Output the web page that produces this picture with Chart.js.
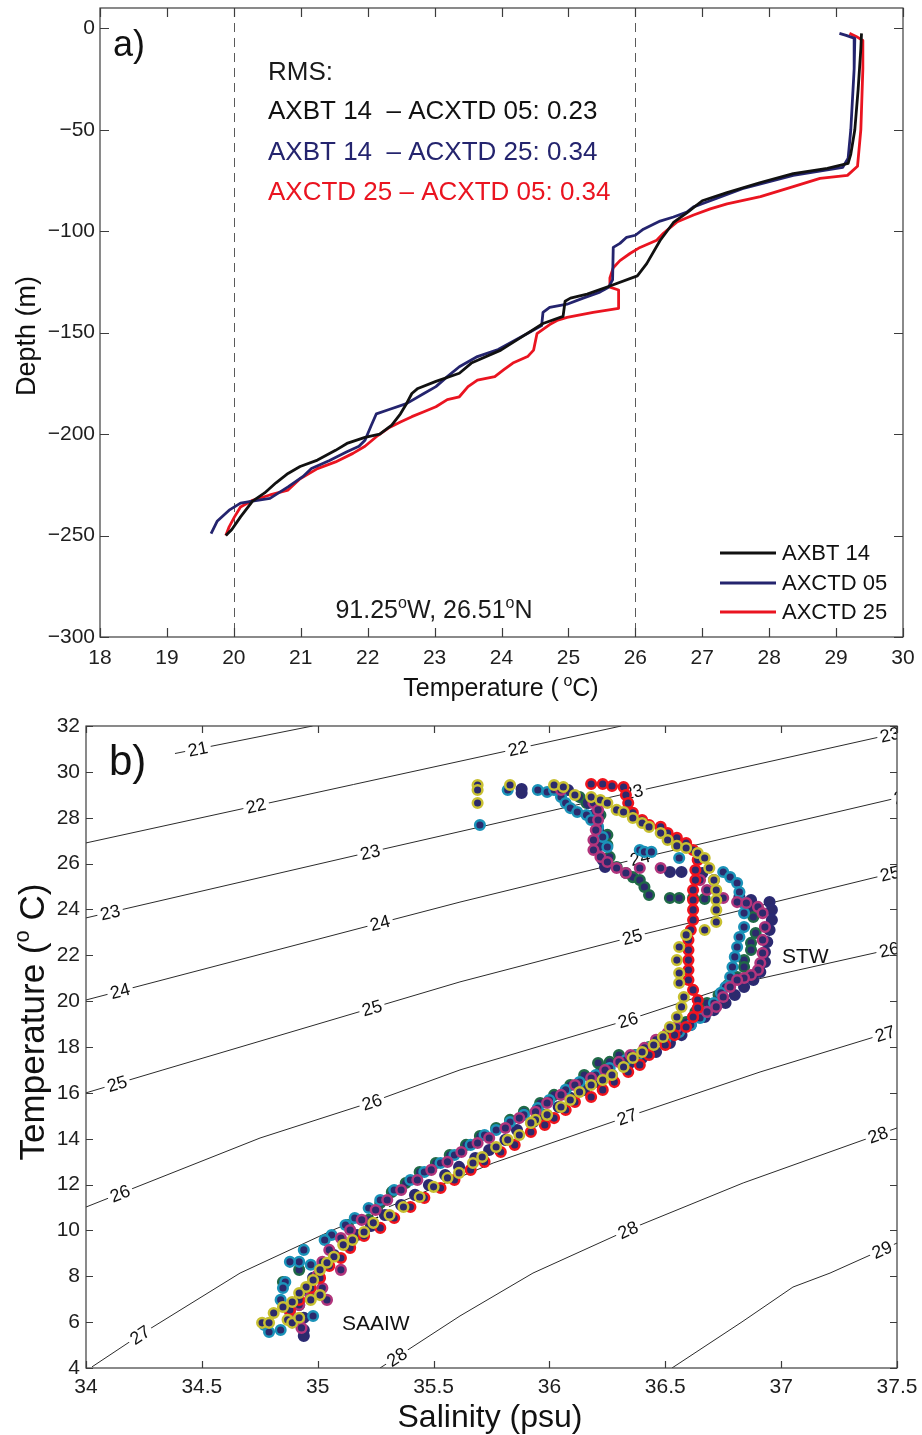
<!DOCTYPE html>
<html>
<head>
<meta charset="utf-8">
<script src="https://cdn.jsdelivr.net/npm/chart.js@4.4.1/dist/chart.umd.min.js"></script>
<style>
  html, body { margin: 0; padding: 0; background: #fff; }
  #wrap { position: relative; width: 922px; height: 1435px; }
  canvas { position: absolute; left: 0; }
  #chartA { top: 0; }
  #chartB { top: 705px; }
</style>
</head>
<body>
<div id="wrap">
  <canvas id="chartA" width="922" height="705"></canvas>
  <canvas id="chartB" width="922" height="730"></canvas>
</div>
<script>
// ---------- panel a: temperature profiles ----------
var tempTicks = [18, 19, 20, 21, 22, 23, 24, 25, 26, 27, 28, 29, 30];
var depthTicks = [-300, -250, -200, -150, -100, -50, 0];
var dashedTemps = [20, 26];

var axbtTemp = [29.38, 29.37, 29.33, 29.28, 29.22, 29.18, 28.87, 28.36, 27.87, 27.37, 27.0, 26.77, 26.57, 26.37, 26.17, 26.03, 25.62, 25.28, 25.03, 24.95, 24.92, 24.62, 24.38, 23.99, 23.55, 23.37, 23.02, 22.75, 22.66, 22.58, 22.49, 22.36, 22.18, 21.96, 21.69, 21.52, 21.25, 20.99, 20.81, 20.63, 20.46, 20.28, 20.1, 19.97, 19.88];
var axbtDepth = [-2.5, -10, -30, -50, -62, -66.6, -69, -71.6, -76, -81, -85, -91, -95.7, -104.6, -116, -122, -127, -131, -133, -134.5, -142, -145.5, -150.5, -158.6, -165, -170, -174, -177.5, -180, -185, -190, -195.6, -200, -201.6, -204.6, -208, -212.8, -216, -219.4, -224, -229, -233, -240.8, -247, -250];

var ctd05Temp = [29.05, 29.15, 29.28, 29.27, 29.22, 29.18, 29.1, 28.36, 27.6, 27.12, 26.87, 26.77, 26.57, 26.37, 26.12, 26.0, 25.87, 25.77, 25.67, 25.66, 25.6, 25.47, 25.22, 24.98, 24.72, 24.62, 24.6, 24.38, 23.95, 23.64, 23.37, 23.19, 23.02, 22.84, 22.58, 22.31, 22.13, 22.05, 21.96, 21.87, 21.69, 21.43, 21.16, 21.03, 20.81, 20.54, 20.28, 20.1, 19.93, 19.75, 19.66];
var ctd05Depth = [-2.5, -3.5, -5, -20, -50, -64, -68.5, -72.5, -79, -85, -88, -90.6, -93, -95, -99, -102, -103, -106, -108, -124, -127.6, -130, -133, -136, -137.6, -140, -146.5, -150.5, -158.3, -161.8, -166.8, -171.7, -176.6, -180, -185, -188, -190, -196, -203, -206, -208.7, -213, -217, -221, -226, -231.7, -233, -234, -237.5, -243, -249];

var ctd25Temp = [29.2, 29.3, 29.4, 29.4, 29.37, 29.32, 29.17, 28.76, 28.36, 27.87, 27.37, 27.12, 26.87, 26.62, 26.42, 26.32, 26.07, 25.92, 25.77, 25.67, 25.62, 25.62, 25.75, 25.75, 25.37, 24.98, 24.83, 24.72, 24.53, 24.48, 24.39, 24.17, 24.03, 23.9, 23.64, 23.5, 23.37, 23.19, 23.02, 22.84, 22.66, 22.49, 22.31, 22.13, 21.96, 21.78, 21.52, 21.25, 20.99, 20.81, 20.54, 20.28, 20.1, 20.01, 19.93, 19.88];
var ctd25Depth = [-2.5, -4, -6, -20, -50, -68, -72.5, -74, -78, -83, -86.5, -89, -92, -95.5, -101, -104.5, -108, -111, -114.5, -118, -123, -127.6, -129, -138, -140, -142.5, -144, -146, -150.5, -158.6, -161.8, -165, -168.4, -171.7, -173.4, -176.6, -181.6, -183, -186.5, -189, -191.4, -194, -197, -201.3, -206, -209.5, -213.7, -217, -222, -227.6, -230, -232.6, -235.9, -240.8, -245.7, -250];

var profileNames = ["AXBT 14", "AXCTD 05", "AXCTD 25"];
var rmsLines = ["AXBT 14  \u2013 ACXTD 05: 0.23", "AXBT 14  \u2013 ACXTD 25: 0.34", "AXCTD 25 \u2013 ACXTD 05: 0.34"];

// ---------- panel b: T-S diagram ----------
var salTicks = [34, 34.5, 35, 35.5, 36, 36.5, 37, 37.5];
var tsTempTicks = [4, 6, 8, 10, 12, 14, 16, 18, 20, 22, 24, 26, 28, 30, 32];

// sigma-t contours [S, T]
var sig21 = [[34.384, 30.80], [34.958, 31.96], [34.978, 32.0]];
var sig22 = [[34.00, 26.90], [36.31, 32.0]];
var sig23 = [[34.00, 23.63], [35.226, 26.50], [36.361, 29.12], [37.50, 31.69]];
var sig24 = [[34.00, 20.05], [35.269, 23.41], [35.614, 24.32], [36.391, 26.24], [37.50, 28.86]];
var sig25 = [[34.00, 16.00], [34.332, 17.00], [35.234, 19.70], [35.614, 20.84], [36.357, 22.80], [37.50, 25.63]];
var sig26 = [[34.00, 11.02], [34.751, 14.03], [35.234, 15.60], [35.614, 17.00], [36.339, 19.18], [36.823, 20.79], [37.50, 22.32]];
var sig27 = [[34.026, 4.05], [34.233, 5.44], [34.665, 8.14], [35.066, 10.02], [35.256, 10.81], [35.757, 12.94], [36.335, 14.95], [36.909, 16.91], [37.50, 18.74]];
var sig28 = [[35.269, 4.00], [35.614, 6.27], [35.929, 8.14], [36.339, 10.02], [36.836, 12.07], [37.50, 14.47]];
var sig29 = [[36.529, 4.00], [36.831, 6.01], [37.051, 7.53], [37.211, 8.14], [37.50, 9.45]];

var sigLabels = {
  21: [[34.483, 31.0]],
  22: [[34.734, 28.52], [35.864, 31.02]],
  23: [[34.104, 23.87], [35.226, 26.50], [36.361, 29.12], [37.47, 31.62]],
  24: [[34.147, 20.44], [35.269, 23.41], [36.391, 26.24], [37.53, 28.93]],
  25: [[34.134, 16.40], [35.234, 19.70], [36.357, 22.80], [37.47, 25.56]],
  26: [[34.147, 11.61], [35.234, 15.60], [36.339, 19.18], [37.466, 22.24]],
  27: [[34.233, 5.44], [35.256, 10.81], [36.335, 14.95], [37.448, 18.58]],
  28: [[35.342, 4.48], [36.339, 10.02], [37.418, 14.17]],
  29: [[37.435, 9.155]]
};

// station profiles [S, T]
var tsYellow = [[35.69, 29.43], [35.69, 29.21], [35.69, 28.64], [35.83, 29.43], [36.02, 29.43], [36.06, 29.34], [36.11, 28.99], [36.18, 28.90], [36.22, 28.77], [36.25, 28.64], [36.29, 28.34], [36.32, 28.25], [36.36, 27.99], [36.40, 27.77], [36.43, 27.60], [36.48, 27.33], [36.51, 27.03], [36.55, 26.77], [36.59, 26.68], [36.64, 26.46], [36.67, 26.24], [36.69, 25.81], [36.71, 25.28], [36.72, 24.85], [36.72, 24.41], [36.72, 23.98], [36.72, 23.45], [36.67, 23.10], [36.59, 22.89], [36.56, 22.36], [36.55, 21.79], [36.56, 21.23], [36.56, 20.79], [36.58, 20.18], [36.57, 19.75], [36.55, 19.31], [36.52, 18.87], [36.49, 18.44], [36.45, 18.09], [36.40, 17.78], [36.36, 17.52], [36.32, 17.13], [36.27, 16.78], [36.23, 16.56], [36.18, 16.34], [36.13, 16.04], [36.09, 15.69], [36.05, 15.38], [35.99, 15.04], [35.94, 14.82], [35.92, 14.69], [35.87, 14.16], [35.82, 13.95], [35.77, 13.64], [35.71, 13.20], [35.67, 12.94], [35.61, 12.51], [35.56, 12.29], [35.50, 11.90], [35.44, 11.46], [35.37, 11.02], [35.31, 10.67], [35.24, 10.33], [35.20, 9.93], [35.15, 9.58], [35.11, 9.37], [35.07, 8.85], [35.04, 8.59], [35.01, 8.28], [34.98, 7.84], [34.95, 7.53], [34.92, 7.27], [34.89, 6.88], [34.85, 6.66], [34.81, 6.40], [34.76, 5.97], [34.79, 5.97], [34.87, 6.10], [34.89, 5.97], [34.92, 6.19], [34.97, 6.97], [35.01, 7.18]];

var tsRed = [[36.18, 29.47], [36.23, 29.47], [36.27, 29.38], [36.32, 29.34], [36.33, 28.99], [36.34, 28.64], [36.36, 28.21], [36.40, 27.90], [36.43, 27.68], [36.48, 27.60], [36.51, 27.33], [36.55, 27.12], [36.59, 26.90], [36.62, 26.59], [36.64, 26.16], [36.63, 25.72], [36.63, 25.28], [36.62, 24.85], [36.62, 24.41], [36.62, 23.98], [36.62, 23.54], [36.61, 23.10], [36.60, 22.67], [36.60, 22.23], [36.60, 21.79], [36.60, 21.36], [36.60, 20.92], [36.62, 20.49], [36.64, 20.05], [36.64, 19.70], [36.62, 19.31], [36.59, 18.87], [36.54, 18.52], [36.50, 18.09], [36.43, 17.65], [36.39, 17.22], [36.34, 16.91], [36.28, 16.47], [36.23, 16.13], [36.18, 15.82], [36.11, 15.60], [36.07, 15.25], [36.02, 14.90], [35.98, 14.60], [35.92, 14.29], [35.85, 13.73], [35.79, 13.42], [35.72, 12.99], [35.66, 12.64], [35.59, 12.20], [35.53, 11.85], [35.46, 11.42], [35.40, 11.02], [35.33, 10.54], [35.27, 10.11], [35.20, 9.76], [35.14, 9.24], [35.10, 8.80], [35.05, 8.45], [35.01, 7.93], [34.97, 7.49], [34.92, 6.97], [34.88, 6.53]];

var tsCyan = [[35.70, 27.68], [35.82, 29.21], [35.95, 29.21], [35.99, 29.12], [36.02, 29.21], [36.05, 28.90], [36.07, 28.64], [36.09, 28.42], [36.12, 28.25], [36.16, 28.12], [36.18, 27.90], [36.21, 27.60], [36.23, 27.16], [36.25, 26.72], [36.39, 26.59], [36.41, 26.51], [36.44, 26.51], [36.56, 26.24], [36.75, 25.63], [36.78, 25.41], [36.81, 25.15], [36.82, 24.76], [36.84, 24.28], [36.84, 23.84], [36.84, 23.23], [36.82, 22.80], [36.81, 22.36], [36.80, 21.93], [36.79, 21.49], [36.78, 21.05], [36.76, 20.62], [36.74, 20.36], [36.71, 19.92], [36.68, 19.53], [36.65, 19.27], [36.61, 18.96], [36.56, 18.65], [36.50, 18.31], [36.43, 17.96], [36.38, 17.65], [36.33, 17.43], [36.26, 17.08], [36.20, 16.78], [36.13, 16.47], [36.07, 16.13], [36.00, 15.69], [35.95, 15.34], [35.89, 15.04], [35.83, 14.73], [35.77, 14.38], [35.72, 14.16], [35.66, 13.73], [35.59, 13.29], [35.53, 12.94], [35.46, 12.55], [35.40, 12.20], [35.33, 11.76], [35.27, 11.33], [35.22, 10.98], [35.16, 10.54], [35.12, 10.24], [35.06, 9.80], [35.03, 9.58], [34.94, 9.15], [34.92, 8.63], [34.97, 8.50], [34.88, 8.63], [34.86, 7.75], [34.85, 7.49], [34.84, 6.97], [34.77, 5.88], [34.79, 5.57], [34.84, 5.66], [34.98, 6.27]];

var tsMagenta = [[36.05, 29.21], [36.19, 28.64], [36.21, 28.34], [36.21, 27.90], [36.20, 27.46], [36.19, 27.03], [36.19, 26.59], [36.22, 26.29], [36.25, 26.07], [36.29, 25.81], [36.33, 25.59], [36.39, 25.81], [36.48, 25.81], [36.65, 25.28], [36.68, 24.85], [36.75, 24.50], [36.81, 24.32], [36.85, 24.28], [36.90, 24.11], [36.92, 23.84], [36.93, 23.23], [36.92, 22.67], [36.92, 22.10], [36.91, 21.66], [36.90, 21.36], [36.87, 21.14], [36.84, 21.01], [36.81, 20.92], [36.78, 20.62], [36.75, 20.18], [36.72, 19.75], [36.68, 19.53], [36.62, 19.31], [36.55, 18.87], [36.51, 18.61], [36.46, 18.31], [36.41, 17.96], [36.35, 17.65], [36.30, 17.35], [36.24, 17.00], [36.18, 16.65], [36.11, 16.34], [36.05, 15.91], [35.99, 15.56], [35.94, 15.17], [35.87, 14.90], [35.81, 14.47], [35.74, 14.03], [35.69, 13.81], [35.62, 13.42], [35.56, 12.99], [35.49, 12.64], [35.43, 12.20], [35.36, 11.76], [35.30, 11.33], [35.25, 10.89], [35.19, 10.46], [35.14, 10.02], [35.10, 9.67], [35.05, 9.15], [35.02, 8.63], [35.00, 8.06], [35.02, 7.49], [34.97, 7.10], [34.92, 6.75], [34.92, 6.10], [34.93, 5.75], [34.88, 6.44], [35.04, 6.97], [35.10, 8.28]];

var tsNavy = [[35.88, 29.25], [35.88, 29.08], [36.08, 29.21], [36.17, 28.64], [36.19, 28.12], [36.21, 27.46], [36.22, 26.81], [36.23, 26.16], [36.24, 25.85], [36.52, 25.63], [36.57, 25.63], [36.66, 25.59], [36.71, 25.28], [36.82, 24.54], [36.87, 24.41], [36.95, 24.32], [36.96, 23.98], [36.96, 23.54], [36.95, 23.10], [36.94, 22.58], [36.93, 22.14], [36.93, 21.71], [36.91, 21.27], [36.88, 20.92], [36.84, 20.62], [36.80, 20.27], [36.76, 19.92], [36.71, 19.61], [36.67, 19.31], [36.61, 18.96], [36.57, 18.52], [36.52, 18.18], [36.46, 17.78], [36.40, 17.52], [36.34, 17.22], [36.27, 16.78], [36.21, 16.47], [36.15, 16.13], [36.09, 15.78], [36.04, 15.38], [35.98, 15.04], [35.93, 14.73], [35.86, 14.38], [35.81, 13.95], [35.74, 13.51], [35.68, 13.16], [35.61, 12.77], [35.55, 12.42], [35.48, 11.98], [35.42, 11.55], [35.36, 11.11], [35.29, 10.67], [35.23, 10.19], [35.17, 9.80], [35.12, 9.37], [35.07, 8.93], [35.02, 8.45], [34.98, 7.93], [34.95, 7.40], [34.92, 6.75], [34.94, 6.19], [34.94, 5.66], [34.94, 5.40]];

var tsGreen = [[36.13, 28.90], [36.16, 28.64], [36.22, 28.12], [36.25, 27.25], [36.25, 26.81], [36.26, 26.29], [36.29, 25.85], [36.33, 25.59], [36.36, 25.41], [36.39, 25.28], [36.41, 24.98], [36.43, 24.63], [36.52, 24.50], [36.56, 24.50], [36.62, 24.50], [36.67, 24.46], [36.84, 24.28], [36.87, 23.98], [36.88, 23.67], [36.89, 22.97], [36.87, 22.54], [36.87, 22.23], [36.84, 21.79], [36.84, 21.49], [36.81, 21.05], [36.77, 20.70], [36.73, 20.27], [36.68, 19.92], [36.63, 19.53], [36.59, 19.09], [36.53, 18.74], [36.48, 18.31], [36.43, 18.00], [36.37, 17.65], [36.31, 17.35], [36.30, 17.65], [36.26, 17.35], [36.21, 17.30], [36.22, 16.91], [36.15, 16.78], [36.09, 16.34], [36.02, 15.91], [35.96, 15.56], [35.89, 15.17], [35.83, 14.82], [35.77, 14.47], [35.70, 14.12], [35.64, 13.73], [35.57, 13.29], [35.51, 12.94], [35.44, 12.55], [35.38, 12.07], [35.32, 11.68], [35.27, 11.20], [35.22, 10.46], [35.13, 10.24], [34.92, 8.28], [34.85, 7.75]];

var FONT = '"Liberation Sans", Arial, Helvetica, sans-serif';

function fmtMinus(v) {
  return v < 0 ? "\u2212" + Math.abs(v) : String(v);
}

function toXY(pairs) {
  return pairs.map(function(p) { return { x: p[0], y: p[1] }; });
}

function zipXY(xs, ys) {
  return xs.map(function(x, i) { return { x: x, y: ys[i] }; });
}

// draws text with superscript parts: parts = [[text, isSup], ...]
function drawRich(ctx, parts, x, y, size, align) {
  var supSize = Math.round(size * 0.62);
  var widths = parts.map(function(p) {
    ctx.font = (p[1] ? supSize : size) + "px " + FONT;
    return ctx.measureText(p[0]).width;
  });
  var total = widths.reduce(function(a, b) { return a + b; }, 0);
  var cx = align === "center" ? x - total / 2 : x;
  ctx.textAlign = "left";
  ctx.textBaseline = "alphabetic";
  parts.forEach(function(p, i) {
    ctx.font = (p[1] ? supSize : size) + "px " + FONT;
    ctx.fillText(p[0], cx, p[1] ? y - size * 0.42 : y);
    cx += widths[i];
  });
}

// box round the axes with inward ticks on all four sides
function drawFrame(chart, tickLen) {
  var ctx = chart.ctx, a = chart.chartArea;
  var xs = chart.scales.x, ys = chart.scales.y;
  ctx.save();
  ctx.strokeStyle = "#3c3c3c";
  ctx.lineWidth = 1.2;
  ctx.strokeRect(a.left, a.top, a.right - a.left, a.bottom - a.top);
  ctx.beginPath();
  xs.ticks.forEach(function(t) {
    var px = Math.round(xs.getPixelForValue(t.value)) + 0.5;
    ctx.moveTo(px, a.bottom); ctx.lineTo(px, a.bottom - tickLen);
    ctx.moveTo(px, a.top); ctx.lineTo(px, a.top + tickLen);
  });
  ys.ticks.forEach(function(t) {
    var py = Math.round(ys.getPixelForValue(t.value)) + 0.5;
    ctx.moveTo(a.left, py); ctx.lineTo(a.left + tickLen, py);
    ctx.moveTo(a.right, py); ctx.lineTo(a.right - tickLen, py);
  });
  ctx.stroke();
  ctx.restore();
}

function scaleOpts(min, max, ticks, size, pad, fmt) {
  return {
    type: "linear",
    min: min,
    max: max,
    afterBuildTicks: function(s) { s.ticks = ticks.map(function(v) { return { value: v }; }); },
    afterFit: function(s) {
      if (s.isHorizontal()) { s.height = size; } else { s.width = size; }
      s.paddingLeft = 0; s.paddingRight = 0; s.paddingTop = 0; s.paddingBottom = 0;
    },
    grid: { display: false, drawTicks: false },
    border: { display: false },
    ticks: {
      autoSkip: false, maxRotation: 0, padding: pad, color: "#1e1e1e",
      font: { family: FONT, size: 21 },
      callback: fmt
    }
  };
}

var colA = { axbt: "#111111", ctd05: "#24246e", ctd25: "#ea1420" };

// ---------- chart a ----------
var panelA = {
  id: "panelA",
  beforeDatasetsDraw: function(chart) {
    var ctx = chart.ctx, a = chart.chartArea, xs = chart.scales.x;
    ctx.save();
    ctx.strokeStyle = "#5a5a5a";
    ctx.lineWidth = 1;
    ctx.setLineDash([9, 6]);
    dashedTemps.forEach(function(t) {
      var px = Math.round(xs.getPixelForValue(t)) + 0.5;
      ctx.beginPath(); ctx.moveTo(px, a.top); ctx.lineTo(px, a.bottom); ctx.stroke();
    });
    ctx.restore();
  },
  afterDraw: function(chart) {
    var ctx = chart.ctx;
    drawFrame(chart, 9);
    ctx.save();
    ctx.fillStyle = "#111";
    ctx.font = "36px " + FONT;
    ctx.textAlign = "left";
    ctx.textBaseline = "alphabetic";
    ctx.fillText("a)", 113, 56);

    ctx.font = "26px " + FONT;
    ctx.fillStyle = "#1a1a1a";
    ctx.fillText("RMS:", 268, 80);
    var rmsCol = [colA.axbt, colA.ctd05, colA.ctd25];
    var rmsY = [119, 160, 200];
    rmsLines.forEach(function(t, i) {
      ctx.fillStyle = rmsCol[i];
      ctx.fillText(t, 268, rmsY[i]);
    });

    ctx.fillStyle = "#1a1a1a";
    drawRich(ctx, [["91.25", false], ["o", true], ["W, 26.51", false], ["o", true], ["N", false]], 434, 618, 25, "center");

    // legend
    var legY = [553, 583, 612];
    chart.data.datasets.forEach(function(ds, i) {
      ctx.strokeStyle = ds.borderColor;
      ctx.lineWidth = 3;
      ctx.beginPath(); ctx.moveTo(720, legY[i]); ctx.lineTo(776, legY[i]); ctx.stroke();
      ctx.fillStyle = "#111";
      ctx.font = "22px " + FONT;
      ctx.textBaseline = "middle";
      ctx.fillText(ds.label, 782, legY[i] + 1);
    });

    // axis titles
    ctx.fillStyle = "#111";
    ctx.textBaseline = "alphabetic";
    drawRich(ctx, [["Temperature (", false], [" o", true], ["C)", false]], 501, 696, 25, "center");
    ctx.translate(35, 336);
    ctx.rotate(-Math.PI / 2);
    ctx.font = "27px " + FONT;
    ctx.textAlign = "center";
    ctx.fillText("Depth (m)", 0, 0);
    ctx.restore();
  }
};

function profileDataset(label, xs, ys, color) {
  return {
    label: label,
    data: zipXY(xs, ys),
    showLine: true,
    borderColor: color,
    backgroundColor: color,
    borderWidth: 2.8,
    pointRadius: 0,
    borderJoinStyle: "round",
    tension: 0
  };
}

new Chart(document.getElementById("chartA"), {
  type: "scatter",
  data: {
    datasets: [
      profileDataset(profileNames[0], axbtTemp, axbtDepth, colA.axbt),
      profileDataset(profileNames[1], ctd05Temp, ctd05Depth, colA.ctd05),
      profileDataset(profileNames[2], ctd25Temp, ctd25Depth, colA.ctd25)
    ]
  },
  options: {
    responsive: false,
    animation: false,
    devicePixelRatio: 1,
    layout: { padding: { left: 0, right: 19, top: 8, bottom: 0 } },
    plugins: { legend: { display: false }, tooltip: { enabled: false } },
    scales: {
      x: scaleOpts(18, 30, tempTicks, 68, 9, function(v) { return String(v); }),
      y: scaleOpts(-300, 10, depthTicks, 100, 5, fmtMinus)
    }
  },
  plugins: [panelA]
});

// ---------- chart b ----------
function segAngle(chart, line, s) {
  var xs = chart.scales.x, ys = chart.scales.y;
  var i = 0;
  while (i < line.length - 2 && line[i + 1][0] < s) { i++; }
  var dx = xs.getPixelForValue(line[i + 1][0]) - xs.getPixelForValue(line[i][0]);
  var dy = ys.getPixelForValue(line[i + 1][1]) - ys.getPixelForValue(line[i][1]);
  return Math.atan2(dy, dx);
}

var contourLabels = {
  id: "contourLabels",
  afterDatasetDraw: function(chart, args) {
    var ds = chart.data.datasets[args.index];
    if (!ds.sigma) { return; }
    var ctx = chart.ctx, a = chart.chartArea;
    var xs = chart.scales.x, ys = chart.scales.y;
    ctx.save();
    ctx.beginPath();
    ctx.rect(a.left, a.top, a.right - a.left, a.bottom - a.top);
    ctx.clip();
    ctx.font = "18px " + FONT;
    ctx.textAlign = "center";
    ctx.textBaseline = "middle";
    var txt = String(ds.sigma);
    var w = ctx.measureText(txt).width;
    (sigLabels[ds.sigma] || []).forEach(function(p) {
      var px = xs.getPixelForValue(p[0]), py = ys.getPixelForValue(p[1]);
      ctx.save();
      ctx.translate(px, py);
      ctx.rotate(segAngle(chart, ds.line, p[0]));
      ctx.fillStyle = "#fff";
      ctx.fillRect(-w / 2 - 3, -7, w + 6, 14);
      ctx.fillStyle = "#111";
      ctx.fillText(txt, 0, 1);
      ctx.restore();
    });
    ctx.restore();
  }
};

var panelB = {
  id: "panelB",
  afterDraw: function(chart) {
    var ctx = chart.ctx;
    drawFrame(chart, 7);
    ctx.save();
    ctx.fillStyle = "#111";
    ctx.textAlign = "left";
    ctx.textBaseline = "alphabetic";
    ctx.font = "42px " + FONT;
    ctx.fillText("b)", 109, 775 - 705);
    ctx.font = "21px " + FONT;
    ctx.fillText("STW", 782, 963 - 705);
    ctx.fillText("SAAIW", 342, 1330 - 705);

    ctx.font = "32px " + FONT;
    ctx.textAlign = "center";
    ctx.fillText("Salinity (psu)", 490, 1427 - 705);

    ctx.translate(44, 1022 - 705);
    ctx.rotate(-Math.PI / 2);
    drawRich(ctx, [["Temperature (", false], ["o", true], [" C)", false]], 0, 0, 35, "center");
    ctx.restore();
  }
};

function contourDataset(sigma, line) {
  return {
    label: "sigma " + sigma,
    sigma: sigma,
    line: line,
    data: toXY(line),
    showLine: true,
    borderColor: "#2b2b2b",
    borderWidth: 1,
    pointRadius: 0,
    order: 20,
    tension: 0
  };
}

function stationDataset(label, pairs, edge, fill, order) {
  return {
    label: label,
    data: toXY(pairs),
    pointRadius: 4.8,
    pointHoverRadius: 4.8,
    borderWidth: 2.5,
    borderColor: edge,
    backgroundColor: fill,
    order: order
  };
}

var navyFill = "#2c2a6c";

new Chart(document.getElementById("chartB"), {
  type: "scatter",
  data: {
    datasets: [
      contourDataset(21, sig21), contourDataset(22, sig22), contourDataset(23, sig23),
      contourDataset(24, sig24), contourDataset(25, sig25), contourDataset(26, sig26),
      contourDataset(27, sig27), contourDataset(28, sig28), contourDataset(29, sig29),
      stationDataset("green", tsGreen, "#1f6a47", navyFill, 6),
      stationDataset("navy", tsNavy, "#2b2a72", navyFill, 5),
      stationDataset("cyan", tsCyan, "#1b93b9", navyFill, 4),
      stationDataset("magenta", tsMagenta, "#b2357c", navyFill, 3),
      stationDataset("red", tsRed, "#f0141d", navyFill, 2),
      stationDataset("yellow", tsYellow, "#c8c031", navyFill, 1)
    ]
  },
  options: {
    responsive: false,
    animation: false,
    devicePixelRatio: 1,
    layout: { padding: { left: 0, right: 25, top: 21, bottom: 0 } },
    plugins: { legend: { display: false }, tooltip: { enabled: false } },
    scales: {
      x: scaleOpts(34, 37.5, salTicks, 67, 7, function(v) { return String(v); }),
      y: scaleOpts(4, 32, tsTempTicks, 86, 6, function(v) { return String(v); })
    }
  },
  plugins: [contourLabels, panelB]
});
</script>
</body>
</html>
